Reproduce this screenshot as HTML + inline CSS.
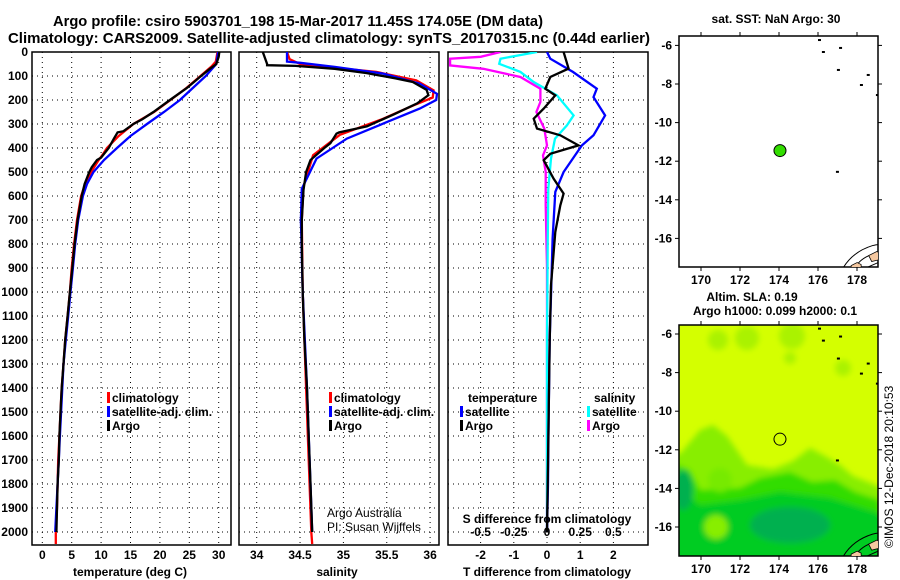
<!DOCTYPE html>
<html><head><meta charset="utf-8">
<style>
html,body{margin:0;padding:0;background:#fff;}
svg{display:block;font-family:"Liberation Sans",sans-serif;}
.b{font-weight:bold;font-size:12px;}
.t{font-weight:bold;font-size:14.7px;}
</style></head>
<body>
<svg id="chart" width="900" height="580" viewBox="0 0 900 580">
<defs>
<clipPath id="c1"><rect x="32" y="52" width="199" height="493"/></clipPath>
<clipPath id="c2"><rect x="239" y="52" width="200" height="493"/></clipPath>
<clipPath id="c3"><rect x="448" y="52" width="200" height="493"/></clipPath>
<clipPath id="cm"><rect x="679" y="325" width="199" height="231"/></clipPath>
<clipPath id="cm1"><rect x="679" y="36" width="199" height="231"/></clipPath>
<filter id="bl"><feGaussianBlur stdDeviation="3"/></filter>
</defs>
<text class="t" x="53" y="26" textLength="490" lengthAdjust="spacingAndGlyphs">Argo profile: csiro 5903701_198 15-Mar-2017 11.45S 174.05E (DM data)</text>
<text class="t" x="8" y="43" textLength="642" lengthAdjust="spacingAndGlyphs">Climatology: CARS2009. Satellite-adjusted climatology: synTS_20170315.nc (0.44d earlier)</text>
<g id="g1"></g>
<g id="g2"></g>
<g id="g3"></g>
<g id="gm"></g>
<text x="893" y="548" font-size="12" transform="rotate(-90 893 548)">©IMOS 12-Dec-2018 20:10:53</text>
</svg>
<script>
// ---- data ----
const depthTicks = [0,100,200,300,400,500,600,700,800,900,1000,1100,1200,1300,1400,1500,1600,1700,1800,1900,2000];
const tempTicks = [0,5,10,15,20,25,30];
const salTicks = [34,34.5,35,35.5,36];
const salTickLabels = ["34","34.5","35","35.5","36"];
const dTTicks = [-2,-1,0,1,2];
const dSTicks = [-0.5,-0.25,0,0.25,0.5];
const dSTickLabels = ["-0.5","-0.25","0","0.25","0.5"];

const tArgoDepth = [0,20,50,70,100,150,200,250,280,300,330,335,360,400,440,450,480,500,550,600,700,800,900,1000,1100,1200,1300,1400,1500,1600,1700,1800,1900,2000];
const tArgo      = [30.1,30.0,29.6,28.5,27.0,24.6,21.7,18.9,17.0,15.5,13.8,12.8,12.2,11.3,10.0,9.3,8.4,8.0,7.2,6.7,6.0,5.5,5.1,4.7,4.3,3.9,3.6,3.3,3.1,2.9,2.8,2.6,2.5,2.4];
const tClimDepth = [0,40,60,100,150,200,250,300,350,400,430,450,500,550,600,700,800,900,1000,1100,1200,1300,1400,1500,1600,1700,1800,1900,2000,2050];
const tClim      = [29.8,29.5,28.8,26.9,24.5,21.8,19.0,15.5,13.0,11.0,10.2,9.6,8.3,7.3,6.6,5.9,5.4,5.0,4.7,4.3,3.9,3.6,3.3,3.1,2.9,2.7,2.6,2.5,2.3,2.3];
const tSatDepth  = [0,50,100,150,200,250,300,350,400,450,500,550,600,700,800,900,1000,1100,1200,1300,1400,1500,1600,1700,1800,1900,2000];
const tSat       = [29.9,29.6,27.8,25.6,23.4,20.7,17.8,15.0,12.7,10.5,8.7,7.6,6.9,6.1,5.6,5.2,4.8,4.4,4.0,3.6,3.4,3.2,3.0,2.8,2.6,2.4,2.2];

const sArgoDepth = [0,50,55,58,70,88,110,125,158,180,214,260,310,335,340,380,400,450,500,575,700,800,1000,1200,1400,1600,1800,2000];
const sArgo      = [34.07,34.12,34.12,34.45,34.9,35.27,35.6,35.8,35.96,35.98,35.85,35.58,35.27,34.95,34.92,34.85,34.78,34.62,34.57,34.54,34.52,34.52,34.53,34.55,34.58,34.6,34.62,34.64];
const sClimDepth = [0,30,50,62,83,118,160,190,222,278,345,430,560,700,1000,1400,2000,2050];
const sClim      = [34.35,34.38,34.5,34.8,35.38,35.84,36.04,36.03,35.81,35.46,34.96,34.65,34.54,34.52,34.53,34.57,34.63,34.64];
const sSatDepth  = [0,40,45,62,90,132,174,200,236,292,361,444,570,700,1000,1400,2000];
const sSat       = [34.35,34.35,34.5,34.9,35.46,35.88,36.08,36.07,35.88,35.5,35.04,34.69,34.52,34.51,34.53,34.58,34.64];

const dTSatDepth  = [0,28,83,153,188,264,347,389,500,583,778,972,1200,1500,1800,2000];
const dTSat       = [0,0.1,0.78,1.5,1.4,1.75,1.4,1.05,0.5,0.25,0.17,0.13,0.08,0.05,0.03,0.0];
const dTArgoDepth = [0,69,104,153,181,236,278,319,347,389,424,451,528,590,639,750,972,1200,1500,1800,2000];
const dTArgo      = [0.5,0.65,0.1,-0.05,0.25,-0.1,-0.4,-0.3,0.4,0.95,0.1,-0.1,0.2,0.5,0.4,0.25,0.12,0.08,0.05,0.02,0.0];
const dSSatDepth  = [0,28,49,83,125,181,264,306,361,444,569,800,1200,1600,2000];
const dSSat       = [-0.075,-0.35,-0.36,-0.2,-0.1,0.075,0.2,0.15,0.06,0.03,0.01,0.005,0.0,0.0,0.0];
const dSArgoDepth = [0,20,28,56,70,104,153,208,250,319,389,431,500,639,900,1400,2000];
const dSArgo      = [-0.35,-0.5,-0.73,-0.73,-0.48,-0.2,-0.05,-0.05,-0.08,-0.02,0.0,-0.03,-0.01,-0.01,0.0,0.0,0.0];

const mapLonTicks = [170,172,174,176,178];
const mapLatTicks = [-6,-8,-10,-12,-14,-16];
const argoLon = [174.05];
const argoLat = [-11.45];
const islandLon = [176.0,176.2,177.08,176.97,178.15,178.5,178.97,176.92];
const islandLat = [-5.67,-6.29,-6.08,-7.22,-8.0,-7.48,-8.52,-12.5];

// ---- axes ----
const Y = d => 52 + d*0.24;
const X1 = t => 42.3 + t*5.88;
const X2 = s => 256.7 + (s-34)*86.7;
const X3 = t => 547 + t*33.2;
const X3s = s => 547 + s*132.8;
const LX = lon => 701 + (lon-170)*19.5;
const LY1 = lat => 45.4 + (-6-lat)*19.3;
const LY2 = lat => 334 + (-6-lat)*19.3;
const NS = 'http://www.w3.org/2000/svg';
function mk(tag, attrs, parent){const e=document.createElementNS(NS,tag);for(const k in attrs)e.setAttribute(k,attrs[k]);parent.appendChild(e);return e;}
function txt(s,x,y,anchor,cls,parent){const e=mk('text',{x:x,y:y,'text-anchor':anchor,'class':cls},parent);e.textContent=s;return e;}

function frameGrid(g,x0,x1,xTicksPx){
  depthTicks.forEach(d=>{const l=mk('line',{x1:x0,x2:x1,y1:Y(d),y2:Y(d),stroke:'#000','stroke-width':1,'stroke-dasharray':'1,4'},g);
    
    });
  xTicksPx.forEach(x=>{const l=mk('line',{x1:x,x2:x,y1:52,y2:545,stroke:'#000','stroke-width':1,'stroke-dasharray':'1,4'},g);
    
    });
  const r=mk('rect',{x:x0,y:52,width:x1-x0,height:493,fill:'none',stroke:'#000','stroke-width':1.5},g);
  
  
}
function series(g,depths,vals,fx,color,clip,name){
  const pts=depths.map((d,i)=>fx(vals[i]).toFixed(1)+','+Y(d).toFixed(1)).join(' ');
  const p=mk('polyline',{points:pts,fill:'none',stroke:color,'stroke-width':2.3,'stroke-linejoin':'miter','clip-path':'url(#'+clip+')'},g);
  
  
}
function legend(g,x,y,color,label,name){
  const r=mk('rect',{x:x,y:y-10,width:3,height:11,fill:color},g);
  
  
  const t=txt(label,x+5,y,'start','b',g);
  
  
}

// panel 1
const g1=document.getElementById('g1');
frameGrid(g1,32,231,tempTicks.map(X1));
series(g1,tClimDepth,tClim,X1,'#ff0000','c1','temp-climatology-line');
series(g1,tSatDepth,tSat,X1,'#0000ff','c1','temp-satellite-line');
series(g1,tArgoDepth,tArgo,X1,'#000000','c1','temp-argo-line');
depthTicks.forEach(d=>{const t=txt(String(d),28,Y(d)+4,'end','b',g1);
  
  });
tempTicks.forEach(v=>{const t=txt(String(v),X1(v),559,'middle','b',g1);
  
  });
{const t=txt('temperature (deg C)',130,576,'middle','b',g1);}
legend(g1,107,402,'#ff0000','climatology','legend-climatology');
legend(g1,107,416,'#0000ff','satellite-adj. clim.','legend-satellite');
legend(g1,107,430,'#000000','Argo','legend-argo');

// panel 2
const g2=document.getElementById('g2');
frameGrid(g2,239,439,salTicks.map(X2));
series(g2,sClimDepth,sClim,X2,'#ff0000','c2','sal-climatology-line');
series(g2,sSatDepth,sSat,X2,'#0000ff','c2','sal-satellite-line');
series(g2,sArgoDepth,sArgo,X2,'#000000','c2','sal-argo-line');
salTicks.forEach((v,i)=>{const t=txt(salTickLabels[i],X2(v),559,'middle','b',g2);
  
  });
{const t=txt('salinity',337,576,'middle','b',g2);}
legend(g2,329,402,'#ff0000','climatology','legend-climatology-2');
legend(g2,329,416,'#0000ff','satellite-adj. clim.','legend-satellite-2');
legend(g2,329,430,'#000000','Argo','legend-argo-2');
{const t=txt('Argo Australia',327,517,'start','',g2);t.setAttribute('font-size','12');}
{const t=txt('PI: Susan Wijffels',327,531,'start','',g2);t.setAttribute('font-size','12');}

// panel 3
const g3=document.getElementById('g3');
frameGrid(g3,448,648,dTTicks.map(X3));
series(g3,dSArgoDepth,dSArgo,X3s,'#ff00ff','c3','sdiff-argo-line');
series(g3,dSSatDepth,dSSat,X3s,'#00ffff','c3','sdiff-satellite-line');
series(g3,dTSatDepth,dTSat,X3,'#0000ff','c3','tdiff-satellite-line');
series(g3,dTArgoDepth,dTArgo,X3,'#000000','c3','tdiff-argo-line');
dTTicks.forEach(v=>{const t=txt(String(v),X3(v),559,'middle','b',g3);
  
  });
dSTicks.forEach((v,i)=>{const t=txt(dSTickLabels[i],X3s(v),536,'middle','b',g3);
  
  });
{const t=txt('S difference from climatology',547,523,'middle','b',g3);}
{const t=txt('T difference from climatology',547,576,'middle','b',g3);}
{const t=txt('temperature',468,402,'start','b',g3);}
{const t=txt('salinity',594,402,'start','b',g3);}
legend(g3,460,416,'#0000ff','satellite','legend-tdiff-satellite');
legend(g3,460,430,'#000000','Argo','legend-tdiff-argo');
legend(g3,587,416,'#00ffff','satellite','legend-sdiff-satellite');
legend(g3,587,430,'#ff00ff','Argo','legend-sdiff-argo');

// maps
const gm=document.getElementById('gm');
function mapAxes(LY,top,bot,name){
  const r=mk('rect',{x:679,y:top,width:199,height:bot-top,fill:'none',stroke:'#000','stroke-width':1.5},gm);
  
  
  mapLonTicks.forEach(v=>{
    mk('line',{x1:LX(v),x2:LX(v),y1:top,y2:top-4,stroke:'#000'},gm);
    mk('line',{x1:LX(v),x2:LX(v),y1:bot,y2:bot+4,stroke:'#000'},gm);
    const t=txt(String(v),LX(v),bot+17,'middle','b',gm);
    
    });
  mapLatTicks.forEach(v=>{
    mk('line',{x1:679,x2:675,y1:LY(v),y2:LY(v),stroke:'#000'},gm);
    mk('line',{x1:878,x2:882,y1:LY(v),y2:LY(v),stroke:'#000'},gm);
    const t=txt(String(v),672,LY(v)+4,'end','b',gm);
    
    });
}
function islands(LY,clip){
  const ig=mk('g',{'clip-path':'url(#'+clip+')'},gm);
  islandLon.forEach((lon,i)=>{
    const e=mk('rect',{x:LX(lon),y:LY(islandLat[i]),width:3,height:2,fill:'#000'},ig);
    
    });
  const b=LY(-17.2);
  const f=mk('path',{d:`M${LX(177.3)},${b+6} Q${LX(177.8)},${b-10} ${LX(178.8)},${b-16} Q${LX(179.2)},${b-18} 880,${b-16} M${LX(177.9)},${b+6} Q${LX(178.2)},${b-4} ${LX(178.9)},${b-8} M${LX(178.5)},${b+6} L${LX(179.2)},${b}`,fill:'none',stroke:'#000','stroke-width':1},ig);
  
  
  const p=mk('path',{d:`M${LX(178.6)},${b-6} l8,-4 l5,2 l-2,6 l-8,2z M${LX(177.7)},${b+4} l6,-3 l4,2 l0,4 l-10,0z`,fill:'#f5c8a0',stroke:'#000','stroke-width':0.8},ig);
  
  
}
{const t=txt('sat. SST: NaN Argo: 30',776,23,'middle','b',gm);}
mapAxes(LY1,36,267,'sst-map');
islands(LY1,'cm1');
{const c=mk('circle',{cx:LX(argoLon[0]),cy:LY1(argoLat[0]),r:6,fill:'#33dd00',stroke:'#000','stroke-width':1},gm);
 
 }

// SLA map background
{const bg=mk('g',{'clip-path':'url(#cm)'},gm);
 
 
 mk('rect',{x:679,y:325,width:199,height:231,fill:'#d4ff00'},bg);
 const bf=mk('g',{filter:'url(#bl)'},bg);
 [[718,340,10],[747,338,12],[792,336,13],[843,368,8],[790,358,6]].forEach(b=>mk('circle',{cx:b[0],cy:b[1],r:b[2],fill:'#aaf200'},bf));
 mk('path',{d:'M670,452 L680,454 L700,430 L713,425 L727,436 L747,465 L773,469 L793,461 L810,448 L825,456 L840,465 L853,476 L873,484 L885,490 L885,570 L670,570Z',fill:'#88ee00'},bf);
 mk('path',{d:'M670,462 L690,470 L700,490 L740,488 L760,478 L790,472 L812,482 L835,480 L855,492 L880,500 L885,570 L670,570Z',fill:'#33dd00'},bf);
 mk('path',{d:'M670,480 L700,505 L740,500 L780,492 L830,498 L885,515 L885,570 L670,570Z',fill:'#00cc22'},bf);
 mk('ellipse',{cx:790,cy:525,rx:40,ry:18,fill:'#00b050'},bf);
 mk('ellipse',{cx:683,cy:490,rx:10,ry:20,fill:'#00b050'},bf);
 mk('ellipse',{cx:716,cy:527,rx:12,ry:12,fill:'#88ee00'},bf);
 mk('ellipse',{cx:720,cy:480,rx:12,ry:12,fill:'#77ea00'},bf);
}
{const t=txt('Altim. SLA: 0.19',752,301,'middle','b',gm);}
{const t=txt('Argo h1000: 0.099 h2000: 0.1',775,315,'middle','b',gm);}
mapAxes(LY2,325,556,'sla-map');
islands(LY2,'cm');
{const c=mk('circle',{cx:LX(argoLon[0]),cy:LY2(argoLat[0]),r:6,fill:'none',stroke:'#000','stroke-width':1},gm);
 
 }
</script>
</body></html>
